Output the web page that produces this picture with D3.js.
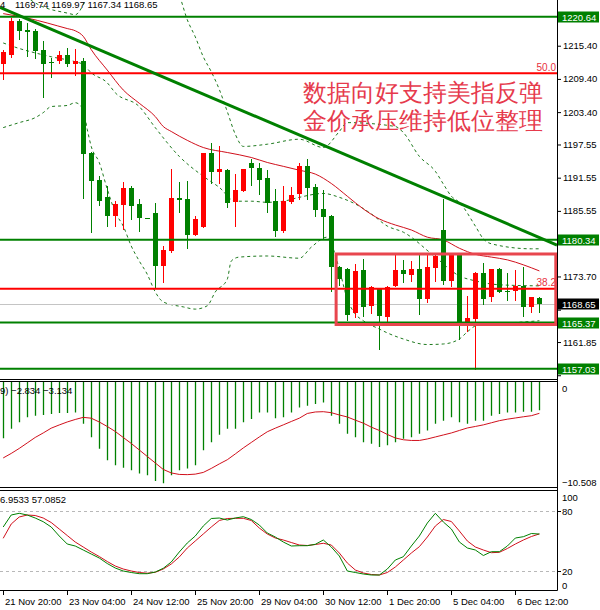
<!DOCTYPE html>
<html>
<head>
<meta charset="utf-8">
<script src="https://cdn.jsdelivr.net/npm/d3@7"></script>
<style>
  body { margin: 0; background: #fff; }
  text { font-family: "Liberation Sans", Arial, sans-serif; }
</style>
</head>
<body>
<div id="chart"></div>
<script>
/***** Values (gold, 4 hour bars) */

const opens = [1212.16, 1213.78, 1219.78, 1218.16, 1217.98, 1214.55, 1212.52, 1212.70, 1213.78, 1212.10,
  1212.70, 1195.94, 1191.08, 1188.07, 1184.64, 1186.63, 1189.76, 1186.75, 1184.18, 1185.13,
  1175.64, 1178.34, 1187.96, 1187.65, 1181.17, 1182.66, 1195.94, 1192.57, 1192.93, 1187.17,
  1189.15, 1194.14, 1193.37, 1191.44, 1187.35, 1181.94, 1187.17, 1188.55, 1193.65, 1189.94,
  1185.85, 1184.54, 1175.40, 1175.04, 1167.11, 1174.92, 1168.37, 1171.56, 1166.34, 1171.92,
  1174.92, 1173.96, 1175.04, 1169.64, 1175.22, 1182.12, 1172.93, 1177.56, 1165.55, 1166.03,
  1174.32, 1169.94, 1175.04, 1171.13, 1171.13, 1171.92, 1168.14, 1169.74];
const highs = [1214.68, 1220.39, 1220.21, 1219.49, 1218.41, 1216.18, 1213.19, 1214.37, 1214.99, 1214.81,
  1213.19, 1196.20, 1191.85, 1190.05, 1187.35, 1190.84, 1190.05, 1187.65, 1184.18, 1186.93,
  1179.24, 1193.19, 1190.77, 1190.95, 1184.54, 1195.94, 1197.74, 1197.26, 1193.19, 1192.16,
  1193.19, 1194.99, 1194.14, 1192.93, 1189.58, 1190.05, 1189.94, 1194.27, 1194.99, 1190.36,
  1189.33, 1184.77, 1175.67, 1175.17, 1175.94, 1176.84, 1171.98, 1171.56, 1171.92, 1177.74,
  1176.72, 1176.54, 1177.74, 1177.74, 1177.74, 1187.74, 1177.74, 1177.74, 1170.23, 1174.45,
  1176.12, 1175.04, 1175.17, 1174.32, 1174.92, 1175.35, 1169.94, 1169.97];
const lows = [1209.40, 1213.37, 1216.61, 1213.47, 1213.19, 1206.16, 1209.69, 1212.28, 1211.67, 1210.18,
  1187.83, 1181.65, 1186.57, 1182.84, 1182.84, 1182.25, 1184.05, 1181.94, 1184.18, 1171.74,
  1172.75, 1178.16, 1185.37, 1178.77, 1181.17, 1182.66, 1190.54, 1190.54, 1186.34, 1182.84,
  1189.15, 1190.18, 1188.68, 1185.26, 1181.04, 1181.65, 1186.93, 1187.65, 1187.78, 1184.64,
  1180.45, 1171.13, 1172.16, 1165.85, 1166.34, 1166.63, 1167.11, 1160.63, 1165.73, 1171.92,
  1172.65, 1172.93, 1166.93, 1169.04, 1172.93, 1172.34, 1172.03, 1162.43, 1163.92, 1157.02,
  1168.74, 1169.33, 1170.84, 1169.51, 1169.51, 1166.63, 1167.35, 1167.34];
const closes = [1214.19, 1219.78, 1217.98, 1217.87, 1214.37, 1212.16, 1212.28, 1213.78, 1212.10, 1212.70,
  1195.76, 1190.95, 1187.35, 1184.64, 1186.75, 1189.76, 1186.45, 1184.18, 1184.18, 1175.64,
  1178.46, 1187.96, 1187.53, 1181.17, 1184.05, 1195.94, 1192.57, 1193.06, 1187.06, 1189.28,
  1193.06, 1193.29, 1191.13, 1187.06, 1181.94, 1187.35, 1188.38, 1193.65, 1189.76, 1185.73,
  1184.36, 1175.35, 1173.24, 1166.75, 1174.74, 1168.14, 1171.74, 1166.52, 1171.74, 1174.92,
  1174.14, 1175.04, 1169.64, 1175.35, 1177.33, 1172.93, 1177.56, 1165.55, 1166.21, 1174.32,
  1169.64, 1175.04, 1170.95, 1170.84, 1171.92, 1168.14, 1169.94, 1168.65];

// [bar index, price] points read along the red average and the dashed bands
const maLine = [[0, 1221.2], [3, 1220.4], [8, 1218.5], [9, 1218.1], [10, 1217.1], [11, 1214.7], [13, 1211.0],
  [15, 1207.4], [17, 1205.0], [19, 1202.6], [20, 1200.8], [21, 1199.9], [23, 1198.3], [25, 1197.0],
  [28, 1196.1], [31, 1195.2], [33, 1194.3], [35, 1193.6], [37, 1192.9], [39, 1192.2], [41, 1190.5],
  [43, 1188.2], [45, 1185.9], [47, 1184.1], [49, 1183.0], [51, 1182.1], [53, 1180.8], [55, 1180.3],
  [57, 1178.8], [59, 1177.7], [61, 1177.2], [63, 1176.7], [65, 1175.8], [67, 1174.7]];
const bbUpper = [[0, 1225.8], [2, 1224.8], [5, 1222.4], [8, 1221.3], [9, 1221.0], [10, 1222.8], [11, 1226.4],
  [13, 1230.0], [17, 1231.8], [20, 1230.0], [22, 1224.6], [23, 1220.1], [24, 1217.0], [25, 1213.4],
  [26, 1210.7], [27, 1207.5], [28, 1203.5], [29, 1199.4], [30, 1197.2], [33, 1197.6], [37, 1198.5],
  [40, 1197.0], [42, 1199.9], [43, 1201.5], [49, 1200.8], [50, 1199.7], [52, 1195.4], [54, 1192.7],
  [55, 1190.4], [56, 1188.2], [57, 1187.1], [59, 1182.8], [60, 1180.5], [61, 1179.6], [66, 1178.7], [67, 1178.7]];
const bbMiddle = [[0, 1215.9], [2, 1214.9], [4, 1214.1], [6, 1213.4], [9, 1212.5], [10, 1212.0], [11, 1210.5],
  [13, 1208.7], [14, 1206.9], [17, 1204.4], [19, 1200.6], [22, 1195.4], [25, 1191.8], [27, 1189.8],
  [29, 1187.3], [31, 1187.3], [33, 1187.1], [35, 1187.3], [37, 1188.0], [40, 1188.7], [42, 1188.0],
  [44, 1186.8], [46, 1185.0], [48, 1182.8], [50, 1181.7], [54, 1177.2], [57, 1173.8], [59, 1172.9],
  [62, 1172.2], [67, 1172.0]];
const bbLower = [[0, 1200.6], [2, 1201.5], [4, 1202.4], [5, 1203.3], [6, 1204.4], [8, 1204.6], [9, 1205.1],
  [10, 1203.9], [10.5, 1200.3], [11, 1197.2], [12, 1194.3], [13, 1189.5], [14, 1185.3], [15, 1182.8],
  [16, 1179.2], [17, 1176.5], [18, 1174.1], [19, 1170.9], [20, 1169.1], [22.5, 1168.2], [24, 1167.8],
  [25.5, 1168.4], [26.5, 1170.9], [28, 1173.2], [28.5, 1176.5], [29.5, 1177.2], [33, 1177.4], [37, 1177.0],
  [38.5, 1179.0], [40.5, 1180.8], [41, 1179.6], [42, 1175.0], [43, 1169.6], [44, 1166.9], [45, 1165.7],
  [47, 1164.2], [48, 1163.5], [50, 1162.4], [53, 1161.4], [55, 1161.5], [57, 1162.4], [58, 1163.7],
  [59, 1164.8], [60, 1165.3], [62, 1165.3], [67, 1165.7]];

const levelPrices = [1220.64, 1180.34, 1165.37, 1157.03];   // green horizontal lines
const fibPrices = [1210.41, 1171.49];
const fibLabels = ['50.0', '38.2'];
const trendLine = [[-0.4, 1222.34], [69.2, 1179.38]];
const boxCorners = [[41.6, 1177.76], [69.05, 1165.02]];
const noteLines = ['数据向好支持美指反弹', '金价承压维持低位整理'];

const priceTicks = [1215.40, 1209.40, 1203.40, 1197.55, 1191.55, 1185.55, 1179.70, 1173.70, 1167.70, 1161.85, 1155.85];

const macdMain = [-5.62, -4.69, -4.03, -3.54, -3.37, -3.30, -3.20, -3.10, -3.10, -3.04,
  -4.19, -5.52, -6.67, -7.83, -8.33, -8.59, -8.82, -9.15, -9.32, -9.91,
  -10.14, -9.32, -8.82, -8.65, -8.33, -6.84, -6.02, -5.28, -4.69, -4.69,
  -4.03, -3.70, -3.04, -3.04, -3.63, -3.54, -3.04, -2.54, -2.38, -2.21,
  -2.05, -3.37, -4.19, -5.19, -5.52, -6.02, -6.18, -6.51, -6.34, -6.02,
  -5.68, -5.52, -5.19, -4.86, -4.19, -3.87, -3.54, -4.03, -4.19, -3.87,
  -3.87, -3.37, -3.20, -3.04, -3.04, -2.97, -2.97, -2.834];
const macdSignal = [-7.60, -7.15, -6.65, -6.10, -5.55, -5.10, -4.62, -4.30, -4.00, -3.75,
  -3.54, -3.62, -4.00, -4.45, -4.95, -5.55, -6.15, -6.80, -7.45, -8.10,
  -8.75, -9.10, -9.25, -9.27, -9.22, -9.05, -8.65, -8.20, -7.78, -7.20,
  -6.60, -6.05, -5.50, -4.98, -4.62, -4.29, -3.95, -3.62, -3.15, -3.00,
  -2.97, -3.07, -3.30, -3.50, -3.82, -4.12, -4.52, -4.85, -5.25, -5.60,
  -5.78, -5.85, -5.85, -5.70, -5.50, -5.30, -5.10, -4.85, -4.60, -4.45,
  -4.29, -4.08, -3.87, -3.72, -3.60, -3.48, -3.37, -3.134];
const macdTicks = [0, -10.508];

const stochMain = [64, 76, 77.7, 76, 73, 69.3, 64, 55, 47, 45,
  41, 37, 33, 27.5, 23, 20, 18.5, 17.3, 17.3, 19,
  22.7, 29, 39, 48, 55, 65, 72.5, 73, 71, 73,
  74.3, 71.5, 66, 58, 54, 49, 45, 45.3, 45.3, 46.7,
  51, 44, 35, 20, 18.5, 17, 16, 16, 22, 31,
  34.3, 45, 55, 68, 77.7, 69, 62, 49, 43, 41,
  35.5, 39.3, 39.3, 45, 53, 54.3, 57.5, 56.9533];
const stochSignal = [52.7, 67, 74, 76, 75.5, 73, 68.5, 62, 55.5, 49,
  44, 39, 34.5, 29.5, 25, 22, 20, 18.5, 17.8, 18.7,
  22, 27, 34, 43, 50, 57, 64, 70.5, 72.5, 72.7,
  72.7, 70.5, 63, 57, 53, 51, 48.5, 46, 45.5, 46.5,
  47.7, 46, 38, 28, 21, 18, 16.5, 16, 18.5, 24,
  31, 38, 44.3, 54, 65, 71.5, 69.5, 60, 50, 44,
  41, 38.3, 38.7, 42.5, 47, 51, 54.5, 57.0852];
const stochLevels = [80, 20];
const stochTicks = [100, 80, 20, 0];

const timeLabels = ['21 Nov 20:00', '23 Nov 04:00', '24 Nov 12:00', '25 Nov 20:00', '29 Nov 04:00',
  '30 Nov 12:00', '1 Dec 20:00', '5 Dec 04:00', '6 Dec 12:00'];
const timeLabelBars = [0, 8, 16, 24, 32, 40, 48, 56, 64];

/***** Layout */

const width = 600, height = 610, plotW = 557;
const panes = {
  price: [0, 379.5],
  macd: [381.5, 487.5],
  stoch: [490.5, 590.5]
};
const GREEN = '#008000', RED = '#ff0000', FONT = '"Liberation Sans", Arial, sans-serif';

const svg = d3.select('#chart').append('svg')
  .attr('width', width)
  .attr('height', height);
svg.append('rect').attr('width', width).attr('height', height).attr('fill', '#fff');

const defs = svg.append('defs');
Object.entries(panes).forEach(([name, [top, bottom]]) => {
  defs.append('clipPath').attr('id', `clip-${name}`)
    .append('rect').attr('x', 0).attr('y', top).attr('width', plotW).attr('height', bottom - top);
});
defs.append('clipPath').attr('id', 'clip-priceAxis')
  .append('rect').attr('x', plotW).attr('y', 0).attr('width', width - plotW).attr('height', panes.price[1]);

const x = d3.scaleLinear().domain([-0.4, 69.2]).range([0, plotW]);
const px = i => Math.round(x(i)) + 0.5;
const yPrice = d3.scaleLinear().domain([1223.66, 1155.08]).range([0, 379.5]);
const yMacd = d3.scaleLinear().domain([0, -10.508]).range([382, 487]);
const yStoch = d3.scaleLinear().domain([100, 0]).range([491, 591]);

/***** Price pane */

const pricePane = svg.append('g').attr('clip-path', 'url(#clip-price)');

const bandLine = d3.line().x(d => x(d[0])).y(d => yPrice(d[1])).curve(d3.curveMonotoneX);
[bbUpper, bbMiddle, bbLower].forEach(band => {
  pricePane.append('path')
    .attr('d', bandLine(band))
    .attr('fill', 'none')
    .attr('stroke', '#1f7a1f')
    .attr('stroke-width', 1)
    .attr('stroke-dasharray', '3,3');
});
pricePane.append('path')
  .attr('d', bandLine(maLine))
  .attr('fill', 'none')
  .attr('stroke', '#d0101c')
  .attr('stroke-width', 1);

// bid line
const lastIdx = closes.length - 1;
pricePane.append('line')
  .attr('x1', 0).attr('x2', plotW)
  .attr('y1', Math.round(yPrice(closes[lastIdx])) + 0.5)
  .attr('y2', Math.round(yPrice(closes[lastIdx])) + 0.5)
  .attr('stroke', '#c4c4c4');

// candles: red = rising bar, green = falling bar
const candles = opens.map((o, i) => ({ i, o, h: highs[i], l: lows[i], c: closes[i] }));
const candleColor = d => (d.c > d.o ? RED : GREEN);
const candleGroups = pricePane.append('g').selectAll('g')
  .data(candles)
  .join('g');
candleGroups.append('line')
  .attr('x1', d => px(d.i)).attr('x2', d => px(d.i))
  .attr('y1', d => Math.round(yPrice(d.h)))
  .attr('y2', d => Math.round(yPrice(d.l)) + 1)
  .attr('stroke', candleColor);
candleGroups.append('rect')
  .attr('x', d => px(d.i) - 2.5)
  .attr('width', 5)
  .attr('y', d => Math.round(yPrice(Math.max(d.o, d.c))))
  .attr('height', d => Math.max(1, Math.round(yPrice(Math.min(d.o, d.c))) - Math.round(yPrice(Math.max(d.o, d.c)))))
  .attr('fill', candleColor);

// horizontal levels
pricePane.selectAll('.level')
  .data(levelPrices)
  .join('line')
  .attr('class', 'level')
  .attr('x1', 0).attr('x2', plotW)
  .attr('y1', d => yPrice(d)).attr('y2', d => yPrice(d))
  .attr('stroke', GREEN)
  .attr('stroke-width', 2);
pricePane.selectAll('.fib')
  .data(fibPrices)
  .join('line')
  .attr('class', 'fib')
  .attr('x1', 0).attr('x2', plotW)
  .attr('y1', d => yPrice(d)).attr('y2', d => yPrice(d))
  .attr('stroke', RED)
  .attr('stroke-width', 2);
pricePane.selectAll('.fibLabel')
  .data(fibPrices)
  .join('text')
  .attr('class', 'fibLabel')
  .attr('x', plotW - 1)
  .attr('y', d => yPrice(d) - 2.5)
  .attr('text-anchor', 'end')
  .attr('font-size', 10)
  .attr('fill', '#e8303c')
  .text((d, i) => fibLabels[i]);

// trend line and box
pricePane.append('line')
  .attr('x1', x(trendLine[0][0])).attr('y1', yPrice(trendLine[0][1]))
  .attr('x2', x(trendLine[1][0])).attr('y2', yPrice(trendLine[1][1]))
  .attr('stroke', GREEN)
  .attr('stroke-width', 3);
pricePane.append('rect')
  .attr('x', x(boxCorners[0][0]))
  .attr('y', yPrice(boxCorners[0][1]))
  .attr('width', x(boxCorners[1][0]) - x(boxCorners[0][0]))
  .attr('height', yPrice(boxCorners[1][1]) - yPrice(boxCorners[0][1]))
  .attr('fill', 'none')
  .attr('stroke', '#e8464e')
  .attr('stroke-width', 3);

// note text
pricePane.selectAll('.note')
  .data(noteLines)
  .join('text')
  .attr('class', 'note')
  .attr('x', 303)
  .attr('y', (d, i) => 100.5 + i * 28.5)
  .attr('font-family', '"Noto Sans CJK SC", sans-serif')
  .attr('font-weight', 300)
  .attr('font-size', 24)
  .attr('fill', '#e63a4c')
  .text(d => d);

// header with the last bar
const fmt2 = d3.format('.2f');
svg.append('text').attr('x', 0).attr('y', 8).attr('font-size', 9.5).attr('font-family', FONT).text('4');
svg.append('text').attr('x', 15).attr('y', 8).attr('font-size', 9.5).attr('font-family', FONT)
  .text([opens[lastIdx], highs[lastIdx], lows[lastIdx], closes[lastIdx]].map(fmt2).join(' '));

/***** MACD pane */

const macdPane = svg.append('g').attr('clip-path', 'url(#clip-macd)');
macdPane.selectAll('.hist')
  .data(macdMain)
  .join('line')
  .attr('class', 'hist')
  .attr('x1', (d, i) => px(i)).attr('x2', (d, i) => px(i))
  .attr('y1', yMacd(0)).attr('y2', d => yMacd(d))
  .attr('stroke', GREEN)
  .attr('stroke-width', 1.3);
macdPane.append('path')
  .attr('d', d3.line().x((d, i) => x(i)).y(d => yMacd(d))(macdSignal))
  .attr('fill', 'none')
  .attr('stroke', '#d0101c')
  .attr('stroke-width', 1);
const fmt3 = d3.format('.3f');
svg.append('text').attr('x', 0).attr('y', 394).attr('font-size', 9.5).attr('font-family', FONT)
  .text(`9) ${fmt3(macdMain[lastIdx])} ${fmt3(macdSignal[lastIdx])}`);

/***** Stochastic pane */

const stochPane = svg.append('g').attr('clip-path', 'url(#clip-stoch)');
stochPane.selectAll('.stochLevel')
  .data(stochLevels)
  .join('line')
  .attr('class', 'stochLevel')
  .attr('x1', 0).attr('x2', plotW)
  .attr('y1', d => Math.round(yStoch(d)) + 0.5).attr('y2', d => Math.round(yStoch(d)) + 0.5)
  .attr('stroke', '#b8b8b8')
  .attr('stroke-dasharray', '3,3');
const stochLine = d3.line().x((d, i) => x(i)).y(d => yStoch(d));
stochPane.append('path')
  .attr('d', stochLine(stochSignal))
  .attr('fill', 'none')
  .attr('stroke', '#d0101c')
  .attr('stroke-width', 1);
stochPane.append('path')
  .attr('d', stochLine(stochMain))
  .attr('fill', 'none')
  .attr('stroke', GREEN)
  .attr('stroke-width', 1);
// the window cuts the first digit of the main value
const fmt4 = d3.format('.4f');
svg.append('text').attr('x', 0).attr('y', 503).attr('font-size', 9.5).attr('font-family', FONT)
  .text(`${fmt4(stochMain[lastIdx]).slice(1)} ${fmt4(stochSignal[lastIdx])}`);

/***** Frames and axes */

const frame = svg.append('g').attr('stroke', '#000').attr('stroke-width', 1);
[379.5, 381.5, 487.5, 490.5, 590.5].forEach(yy => {
  frame.append('line').attr('x1', 0).attr('x2', plotW + 0.5).attr('y1', yy).attr('y2', yy);
});
frame.append('line').attr('x1', plotW + 0.5).attr('x2', plotW + 0.5).attr('y1', 0).attr('y2', 590.5);

// price tags on the axis
const tags = levelPrices.map(p => ({ p, fill: GREEN }))
  .concat([{ p: closes[lastIdx], fill: '#000' }]);

// axis labels that sit under a tag are hidden by it, keep only their tick
const underTag = v => tags.some(t => Math.abs(yPrice(t.p) - yPrice(v)) < 10);
const priceAxis = d3.axisRight(yPrice)
  .tickValues(priceTicks)
  .tickSize(4)
  .tickFormat(d => (underTag(d) ? '' : fmt2(d)));
const priceAxisG = svg.append('g')
  .attr('clip-path', 'url(#clip-priceAxis)')
  .append('g')
  .attr('transform', `translate(${plotW},0)`)
  .call(priceAxis);
priceAxisG.select('.domain').remove();
priceAxisG.selectAll('text')
  .attr('font-size', 9.5)
  .attr('font-family', FONT)
  .attr('fill', '#000')
  .attr('x', 6);

const tagG = svg.append('g').selectAll('g')
  .data(tags)
  .join('g')
  .attr('transform', d => `translate(${plotW + 1},${Math.round(yPrice(d.p))})`);
tagG.append('rect')
  .attr('x', 0).attr('y', -5.5)
  .attr('width', 41).attr('height', 11)
  .attr('fill', d => d.fill);
tagG.append('text')
  .attr('x', 4).attr('y', 3.5)
  .attr('font-size', 9.5).attr('font-family', FONT)
  .attr('fill', '#fff')
  .text(d => fmt2(d.p));

// clamp a label inside its pane the way the terminal does
const paneLabel = (value, scale, [top, bottom], format) => {
  const yy = Math.min(Math.max(scale(value), top + 6.5), bottom - 5.5);
  svg.append('text')
    .attr('x', plotW + 5).attr('y', yy + 3.5)
    .attr('font-size', 9.5).attr('font-family', FONT)
    .attr('fill', '#000')
    .text(format(value));
};
macdTicks.forEach(v => paneLabel(v, yMacd, panes.macd, d => (d === 0 ? '0' : fmt3(d))));
stochTicks.forEach(v => paneLabel(v, yStoch, panes.stoch, d => String(d)));
stochLevels.forEach(v => {
  svg.append('line')
    .attr('x1', plotW).attr('x2', plotW + 4)
    .attr('y1', Math.round(yStoch(v)) + 0.5).attr('y2', Math.round(yStoch(v)) + 0.5)
    .attr('stroke', '#000');
});

// time axis
const timeG = svg.append('g').selectAll('g')
  .data(timeLabelBars)
  .join('g')
  .attr('transform', d => `translate(${px(d)},0)`);
timeG.append('line')
  .attr('y1', 590.5).attr('y2', 595)
  .attr('stroke', '#000');
timeG.append('text')
  .attr('x', 1.5).attr('y', 604.5)
  .attr('font-size', 9.5).attr('font-family', FONT)
  .text((d, i) => timeLabels[i]);
</script>
</body>
</html>
